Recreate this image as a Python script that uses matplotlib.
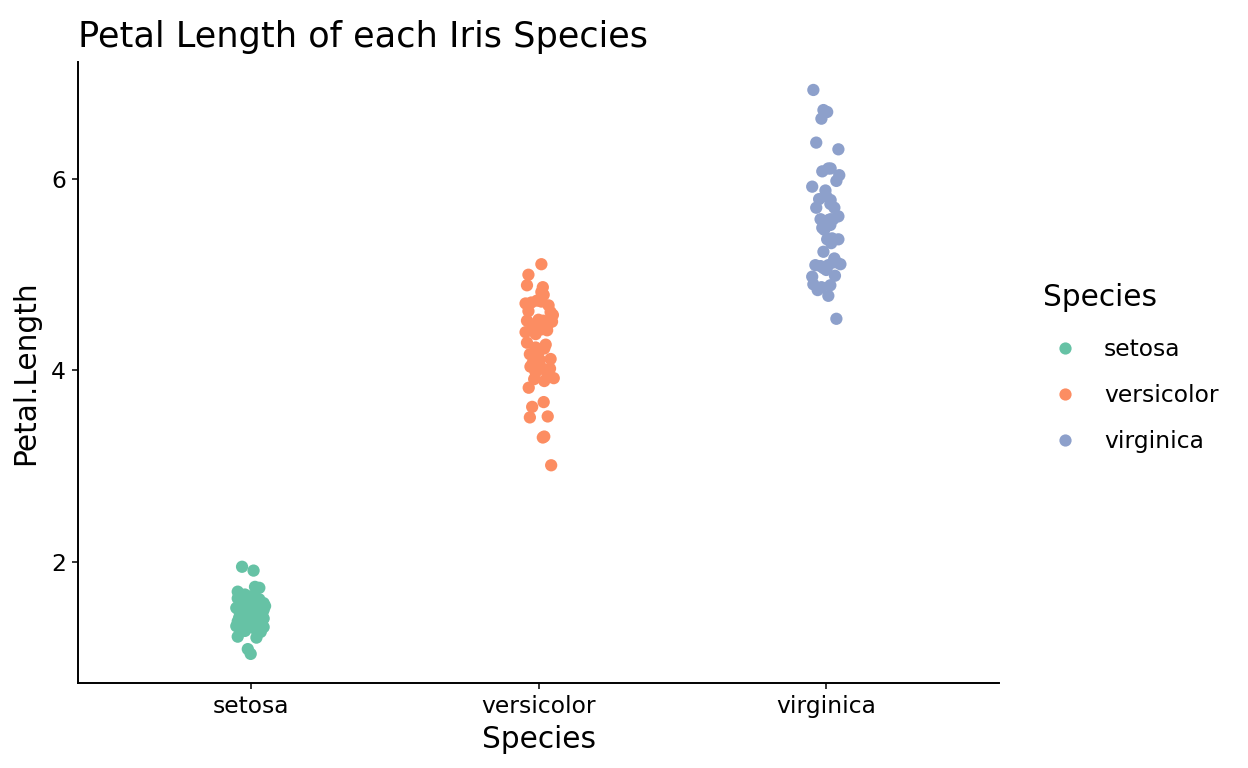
import matplotlib
matplotlib.use("Agg")
import matplotlib.pyplot as plt
from matplotlib.lines import Line2D
import numpy as np

species = ["setosa", "versicolor", "virginica"]
colors = ["#66C2A5", "#FC8D62", "#8DA0CB"]

# jittered petal lengths and horizontal jitter (category units)
setosa_y = [1.04, 1.09, 1.22, 1.21,
            1.33, 1.28, 1.31, 1.27, 1.34, 1.29, 1.32,
            1.38, 1.42, 1.37, 1.43, 1.39, 1.41, 1.36, 1.44, 1.40, 1.38, 1.42, 1.37, 1.43,
            1.52, 1.47, 1.53, 1.48, 1.51, 1.46, 1.54, 1.49, 1.52, 1.47, 1.53, 1.50, 1.48,
            1.62, 1.58, 1.64, 1.61, 1.57, 1.63, 1.59,
            1.69, 1.74, 1.73, 1.66,
            1.95, 1.91]
setosa_dx = [0.00, -0.01, -0.045, 0.02,
             -0.05, -0.02, 0.01, 0.035, 0.025, -0.035, 0.045,
             -0.045, -0.02, 0.00, 0.02, 0.04, 0.045, -0.03, 0.01, -0.01, 0.03, -0.04, 0.015, 0.035,
             -0.05, -0.03, -0.015, 0.005, 0.025, 0.04, 0.05, -0.04, 0.015, 0.035, -0.005, 0.045, -0.025,
             -0.045, -0.02, 0.00, 0.03, 0.045, 0.015, -0.035,
             -0.045, 0.015, 0.03, -0.02,
             -0.03, 0.01]

versicolor_y = [3.01, 3.30, 3.31, 3.51, 3.52, 3.62, 3.67, 3.82,
                3.92, 3.89, 3.91,
                4.04, 4.02, 3.98, 4.03, 3.97,
                4.12, 4.08, 4.11,
                4.17, 4.23, 4.19, 4.24,
                4.29, 4.27,
                4.40, 4.42, 4.38, 4.43,
                4.52, 4.52, 4.51, 4.48, 4.47, 4.53, 4.46,
                4.61, 4.62, 4.58,
                4.70, 4.72, 4.71, 4.68, 4.73,
                4.79, 4.82, 4.89, 4.87, 5.00, 5.11]
versicolor_dx = [0.044, 0.015, 0.02, -0.03, 0.032, -0.022, 0.018, -0.034,
                 0.053, 0.02, -0.015,
                 -0.028, 0.04, -0.01, 0.01, 0.03,
                 0.042, -0.02, 0.005,
                 -0.03, 0.02, 0.00, -0.01,
                 -0.04, 0.025,
                 -0.045, 0.03, -0.01, 0.01,
                 -0.04, 0.017, 0.047, -0.02, 0.03, 0.00, -0.005,
                 0.042, -0.035, 0.05,
                 -0.045, 0.01, -0.025, 0.035, -0.005,
                 0.018, 0.01, -0.04, 0.015, -0.035, 0.01]

virginica_y = [6.93, 6.72, 6.70, 6.63, 6.38, 6.31,
               6.11, 6.11, 6.08, 6.04, 5.98, 5.92, 5.88,
               5.82, 5.78, 5.79, 5.70, 5.70, 5.74,
               5.58, 5.61, 5.58, 5.55, 5.57, 5.58,
               5.49, 5.47, 5.52, 5.37, 5.38, 5.37, 5.33, 5.24, 5.17,
               5.10, 5.09, 5.10, 5.13, 5.11, 5.07, 5.13,
               4.98, 4.99, 5.05, 4.90, 4.87, 4.89, 4.78, 4.84, 4.54]
virginica_dx = [-0.045, -0.01, 0.003, -0.017, -0.035, 0.042,
                0.007, 0.015, -0.014, 0.045, 0.035, -0.049, -0.003,
                0.00, 0.015, -0.025, -0.035, 0.028, 0.014,
                -0.02, 0.042, 0.014, 0.00, 0.007, 0.024,
                -0.014, -0.007, 0.014, 0.003, 0.02, 0.042, 0.017, -0.01, 0.028,
                -0.038, -0.02, 0.007, 0.024, 0.049, -0.01, 0.035,
                -0.049, 0.03, 0.00, -0.045, -0.017, 0.014, 0.007, -0.03, 0.035]

ys = [setosa_y, versicolor_y, virginica_y]
dxs = [setosa_dx, versicolor_dx, virginica_dx]

fig = plt.figure(figsize=(12.48, 7.68), dpi=100)
ax = fig.add_axes([78/1248, 1 - 683/768, (999-78)/1248, (683-62)/768])

handles = []
for i, (name, col) in enumerate(zip(species, colors)):
    x = (i + 1) + np.array(dxs[i])
    ax.scatter(x, ys[i], s=78, color=col, edgecolors="none", zorder=3)
    handles.append(Line2D([], [], marker="o", linestyle="none", markersize=8.8,
                          markerfacecolor=col, markeredgecolor="none", label=name))

ax.set_xlim(0.4, 3.6)
ax.set_ylim(0.736, 7.222)
ax.set_xticks([1, 2, 3])
ax.set_xticklabels(species)
ax.set_yticks([2, 4, 6])
ax.set_yticklabels(["2", "4", "6"])

for side in ["top", "right"]:
    ax.spines[side].set_visible(False)
for side in ["left", "bottom"]:
    ax.spines[side].set_linewidth(1.4)
    ax.spines[side].set_color("black")

ax.tick_params(axis="both", which="major", length=4.5, width=1.1, color="black",
               labelsize=16.8, labelcolor="black", direction="out", pad=4)

ax.set_xlabel("Species", fontsize=21.3, labelpad=5)
ax.set_ylabel("Petal.Length", fontsize=21.3, labelpad=8)
ax.set_title("Petal Length of each Iris Species", fontsize=25.3, loc="left", pad=11)

fig.text(1043/1248, 1 - 297/768, "Species", fontsize=21.3, ha="left", va="center")
leg = ax.legend(handles=handles, loc="upper left", bbox_to_anchor=(1043/1248, 1 - 338/768),
                bbox_transform=fig.transFigure, frameon=False,
                fontsize=16.8, labelspacing=0.98, handletextpad=0.72,
                borderpad=0, borderaxespad=0, handlelength=1.9, alignment="left")

fig.savefig("out.png", dpi=100, facecolor="white")
